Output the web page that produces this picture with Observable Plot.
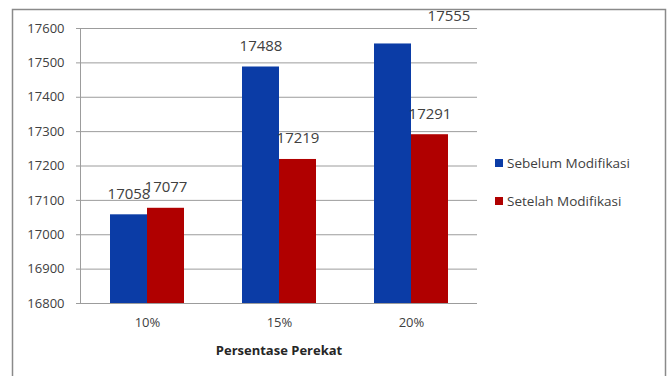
<!DOCTYPE html>
<html>
<head>
<meta charset="utf-8">
<script src="https://cdn.jsdelivr.net/npm/d3@7"></script>
<script src="https://cdn.jsdelivr.net/npm/@observablehq/plot@0.6"></script>
<style>
  html, body { margin: 0; padding: 0; background: #fff; overflow: hidden; }
  #chart { position: relative; width: 670px; height: 376px; }
</style>
</head>
<body>
<div id="chart"></div>
<script>
// Kadar perekat and the two measured series
const groups = ["10%", "15%", "20%"];
const seriesNames = ["Sebelum Modifikasi", "Setelah Modifikasi"];
const sebelum = [17058, 17488, 17555];
const setelah = [17077, 17219, 17291];
const yTicks = [16800, 16900, 17000, 17100, 17200, 17300, 17400, 17500, 17600];
const xTitle = "Persentase Perekat";

const colors = ["#0b3ca6", "#b00000"];
const textColor = "#404040";
const gridColor = "#9c9c9c";
const font = "'Open Sans', sans-serif";
const yMin = yTicks[0], yMax = yTicks[yTicks.length - 1];

const rows = groups.flatMap((g, i) => [
  {group: g, series: seriesNames[0], value: sebelum[i]},
  {group: g, series: seriesNames[1], value: setelah[i]}
]);

// labels that would run past the top of the frame go beside the bar instead
const fitsAbove = d => d.value + 60 <= yMax;

const plot = Plot.plot({
  width: 670,
  height: 376,
  marginLeft: 80,
  marginRight: 192,
  marginTop: 28,
  marginBottom: 73,
  style: {fontFamily: font, fontSize: "13px", color: textColor, background: "#fff", overflow: "visible"},
  fx: {domain: groups, padding: 0, label: null, axis: null},
  x: {domain: seriesNames, paddingInner: 0, paddingOuter: 0.746, axis: null},
  y: {domain: [yMin, yMax], axis: null},
  color: {domain: seriesNames, range: colors},
  marks: [
    Plot.gridY(yTicks, {stroke: gridColor, strokeOpacity: 1, strokeWidth: 1}),
    Plot.axisY(yTicks, {
      tickSize: 5, tickPadding: 12, stroke: gridColor, fill: textColor,
      tickFormat: d3.format("d"), label: null, fontSize: 13
    }),
    Plot.axisFx({anchor: "bottom", tickSize: 0, tickPadding: 14, label: null, fill: textColor, fontSize: 13}),
    Plot.barY(rows, {fx: "group", x: "series", y1: () => yMin, y2: "value", fill: "series"}),
    Plot.text(rows.filter(fitsAbove), {
      fx: "group", x: "series", y: "value", text: d => String(d.value),
      dy: -21, fill: textColor, fontSize: 15
    }),
    Plot.text(rows.filter(d => !fitsAbove(d)), {
      fx: "group", x: "series", y: "value", text: d => String(d.value),
      dx: 56, dy: -28, fill: textColor, fontSize: 15
    })
  ]
});

const svg = d3.select(plot);
const y = plot.scale("y");

// outer chart border
svg.insert("rect", ":first-child")
  .attr("x", 12.5).attr("y", 9.5)
  .attr("width", 653).attr("height", 400)
  .attr("fill", "none").attr("stroke", "#8a8a8a").attr("stroke-width", 1.5);

// vertical value axis line
svg.append("line")
  .attr("x1", 80.5).attr("x2", 80.5)
  .attr("y1", y.apply(yMax)).attr("y2", y.apply(yMin))
  .attr("stroke", gridColor);

// x axis title
svg.append("text")
  .attr("x", (80 + 478) / 2).attr("y", 350).attr("dy", "0.35em")
  .attr("text-anchor", "middle").attr("font-weight", "bold")
  .attr("font-family", font).attr("font-size", 13).attr("fill", "#262626")
  .text(xTitle);

// legend
const lg = svg.append("g").attr("font-family", font).attr("font-size", 13.5).attr("text-anchor", "start");
seriesNames.forEach((s, i) => {
  const cy = 163 + i * 38;
  lg.append("rect").attr("x", 495).attr("y", cy - 4).attr("width", 8).attr("height", 8).attr("fill", colors[i]);
  lg.append("text").attr("x", 507).attr("y", cy).attr("dy", "0.35em").attr("fill", textColor).text(s);
});

document.getElementById("chart").appendChild(plot);
</script>
</body>
</html>
